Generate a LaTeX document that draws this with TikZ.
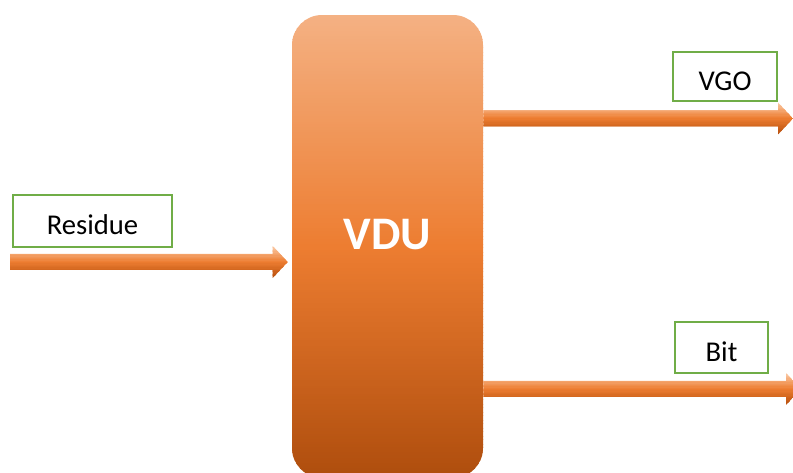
\documentclass[tikz,border=0pt]{standalone}
\usepackage{fontspec}
\setmainfont{Carlito}
\usetikzlibrary{calc}

\definecolor{linegreen}{HTML}{70AD47}
\definecolor{vdutop}{HTML}{F4B183}
\definecolor{vdumid}{HTML}{ED7D31}
\definecolor{vdubot}{HTML}{AE4D0D}
\definecolor{pipetop}{HTML}{FBCDAB}
\definecolor{pipemid}{HTML}{ED7D31}
\definecolor{pipebot}{HTML}{B74F0D}

\tikzset{
  % three colour fill, laid down in thin horizontal strips
  strips/.style n args = {5}{path picture={
      \foreach \k in {1,...,#4} {
        \pgfmathsetmacro\share{(\k-0.5)/#4*200}
        \ifdim\share pt<100pt
          \colorlet{stripcol}{#2!\share!#1}
        \else
          \pgfmathsetmacro\share{\share-100}
          \colorlet{stripcol}{#3!\share!#2}
        \fi
        \fill [stripcol, sharp corners]
          ([yshift={-(\k-1)*#5}]path picture bounding box.north west)
          rectangle ++(800pt,{-#5-0.5pt});
      }}},
}

% broad shaded arrow from #1 to #2 (same height)
\newcommand{\fatarrow}[2]{%
  \path [pipe] let \p1 = (#1), \p2 = (#2) in
    (\x1,\y1+6pt) -- (\x2-11.25pt,\y1+6pt) -- (\x2-11.25pt,\y1+12pt)
    -- (\x2,\y1) -- (\x2-11.25pt,\y1-12pt) -- (\x2-11.25pt,\y1-6pt)
    -- (\x1,\y1-6pt) -- cycle;}

\begin{document}
\begin{tikzpicture} [
    x=0.75pt, y=-0.75pt,
    unit/.style   = { rectangle, rounded corners=22.5pt,
                      strips={vdutop}{vdumid}{vdubot}{174}{2pt},
                      text=white,
                      font=\fontsize{35}{42}\selectfont\bfseries,
                      minimum width=143.25pt, minimum height=347.25pt,
                      inner sep=0pt, text height=22.5pt, text depth=17.25pt },
    stream/.style = { rectangle, draw=linegreen, line width=1.5pt,
                      fill=white, font=\fontsize{21.5}{25}\selectfont,
                      inner sep=0pt, text height=21pt, text depth=0pt },
    pipe/.style   = { strips={pipetop}{pipemid}{pipebot}{24}{1pt} },
  ]
  \clip (0,0) rectangle (793,473);

  \node [unit] (vdu) at (387.5,246.5) {VDU};

  \node [stream, minimum width=119.25pt, minimum height=39pt]
        (residue) at (92.5,221) {Residue};
  \node [stream, minimum width=78pt, minimum height=36.75pt]
        (vgo) at (725,76.5) {VGO};
  \node [stream, minimum width=69.75pt, minimum height=38.25pt]
        (bit) at (721.5,347.5) {Bit};

  \coordinate (feed)   at (10,262);
  \coordinate (vgoend) at (793,118.5);
  \coordinate (bitend) at (801,389);

  % streams in and out of the unit
  \fatarrow{feed}{$(vdu.west |- feed)+(-4,0)$}
  \fatarrow{vdu.east |- vgoend}{vgoend}
  \fatarrow{vdu.east |- bitend}{bitend}
\end{tikzpicture}
\end{document}
